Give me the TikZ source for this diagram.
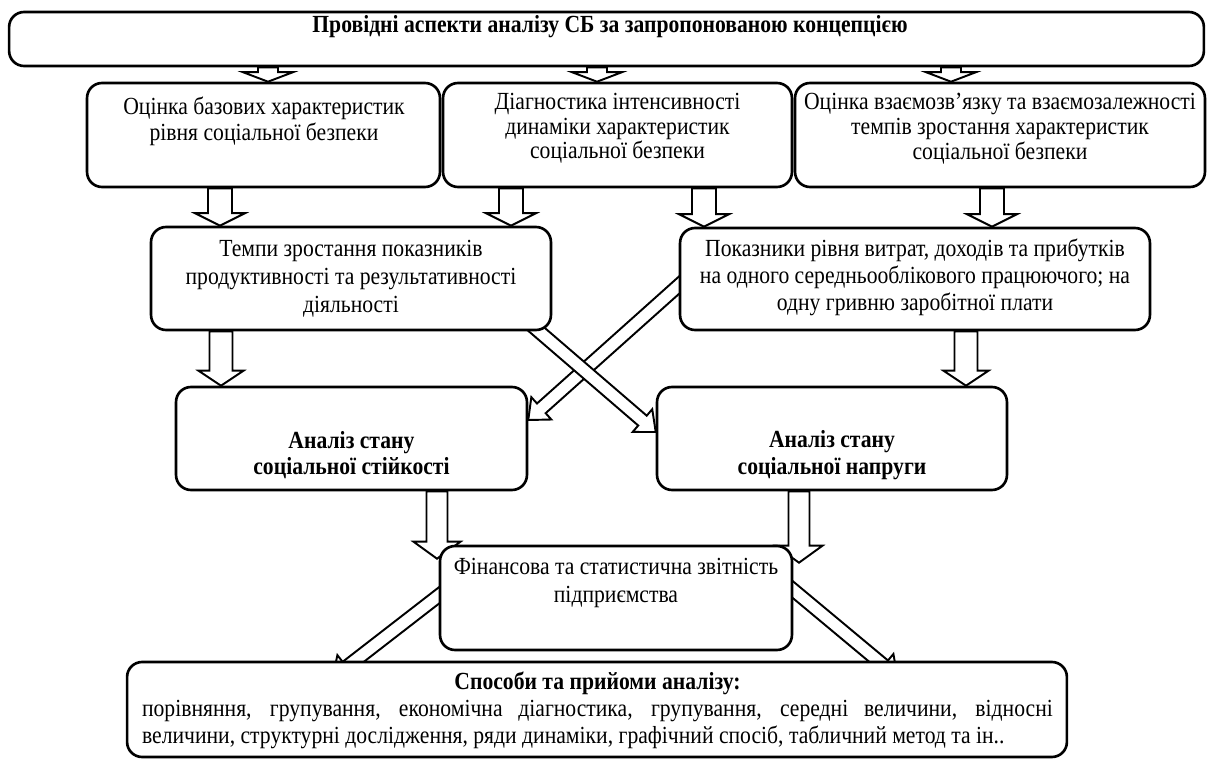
\documentclass[tikz,border=0pt]{standalone}
\usepackage{fontspec}
\setmainfont{Liberation Serif}[FakeStretch=0.88]
\usetikzlibrary{positioning,calc,backgrounds}

\tikzset{
  box/.style={draw, line width=1.5pt, rounded corners=0.3cm, fill=white, inner sep=0pt},
  boxtext/.style={align=center, inner sep=0pt, font=\fontsize{14}{15}\selectfont},
  boldtext/.style={boxtext, font=\fontsize{14}{15}\selectfont\bfseries},
  fatarrow/.style={draw, line width=1.1pt, fill=white, line join=miter},
}

% hollow block arrow: from, to, shaft half width, head half width, head length
\newcommand{\hollowarrow}[5]{%
  \coordinate (ha) at (#1);
  \coordinate (hz) at (#2);
  \coordinate (hb) at ($(hz)!#5!(ha)$);
  \draw[fatarrow] ($(ha)!#3!90:(hz)$) -- ($(hb)!#3!90:(hz)$) -- ($(hb)!#4!90:(hz)$) -- (hz)
    -- ($(hb)!#4!-90:(hz)$) -- ($(hb)!#3!-90:(hz)$) -- ($(ha)!#3!-90:(hz)$) -- cycle;
}

\begin{document}
\begin{tikzpicture}[x=0.02cm, y=-0.02cm]
\useasboundingbox (0,0) rectangle (1208,760);

% top
\node[box, minimum width=23.9cm, minimum height=1.08cm] (top) at (606.5,39) {};
\node[boldtext] (top-txt) at (610,27) {Провідні аспекти аналізу СБ за запропонованою концепцією};

% aspects
\node[box, minimum width=7.06cm, minimum height=2.08cm] (A) at (263.5,135) {};
\node[boxtext] (A-txt) at (264,121) {Оцінка базових характеристик\\рівня соціальної безпеки};
\node[box, minimum width=6.98cm, minimum height=2.08cm] (B) at (617.5,135) {};
\node[boxtext, font=\fontsize{14}{14}\selectfont] (B-txt) at (617.5,128.5) {Діагностика інтенсивності\\динаміки характеристик\\соціальної безпеки};
\node[box, minimum width=8.2cm, minimum height=2.08cm] (C) at (1000,135) {};
\node[boxtext, font=\fontsize{14}{14.2}\selectfont] (C-txt) at (1000,129) {Оцінка взаємозв’язку та взаємозалежності\\темпів зростання характеристик\\соціальної безпеки};

% indicators
\node[box, minimum width=8.0cm, minimum height=2.06cm] (T) at (351,278.5) {};
\node[boxtext, font=\fontsize{14}{16}\selectfont] (T-txt) at (351,278.5) {Темпи зростання показників\\продуктивності та результативності\\діяльності};
\node[box, minimum width=9.4cm, minimum height=2.04cm] (P) at (915,279) {};
\node[boxtext, font=\fontsize{14}{15.4}\selectfont] (P-txt) at (915,277) {Показники рівня витрат, доходів та прибутків\\на одного середньооблікового працюючого; на\\одну гривню заробітної плати};

% analysis
\node[box, minimum width=7.02cm, minimum height=2.06cm] (S) at (351.5,438.5) {};
\node[boldtext] (S-txt) at (351.5,455) {Аналіз стану\\соціальної стійкості};
\node[box, minimum width=7.0cm, minimum height=2.06cm] (N) at (832,438.5) {};
\node[boldtext] (N-txt) at (832,455) {Аналіз стану\\соціальної напруги};

% reports
\node[box, minimum width=7.04cm, minimum height=2.08cm] (F) at (616,598) {};
\node[boxtext, font=\fontsize{14}{16}\selectfont] (F-txt) at (616,583) {Фінансова та статистична звітність\\підприємства};

% methods
\node[box, minimum width=18.8cm, minimum height=1.9cm] (M) at (597,709.5) {};
\node[boxtext, text width=18.22cm, align=justify, font=\fontsize{14}{15.4}\selectfont] (M-txt) at (597.5,710) {%
  {\centering\bfseries\noindent Способи та прийоми аналізу:\par}
  \noindent порівняння, групування, економічна діагностика, групування, середні величини, відносні\linebreak
  величини, структурні дослідження, ряди динаміки, графічний спосіб, табличний метод та ін..};

% arrows behind the boxes
\begin{scope}[on background layer]
  \coordinate (xa) at (268,0);
  \coordinate (xb) at (597,0);
  \coordinate (xc) at (951,0);
  \hollowarrow{xa |- top.south}{xa |- A.north}{0.2cm}{0.5cm}{0.19cm}
  \hollowarrow{xb |- top.south}{xb |- B.north}{0.2cm}{0.5cm}{0.19cm}
  \hollowarrow{xc |- top.south}{xc |- C.north}{0.2cm}{0.5cm}{0.19cm}

  \coordinate (xat) at (220,0);
  \coordinate (xbt) at (511,0);
  \coordinate (xbp) at (704,0);
  \coordinate (xcp) at (992,0);
  \hollowarrow{xat |- A.south}{xat |- T.north}{0.24cm}{0.5cm}{0.25cm}
  \hollowarrow{xbt |- B.south}{xbt |- T.north}{0.24cm}{0.5cm}{0.25cm}
  \hollowarrow{xbp |- B.south}{xbp |- P.north}{0.24cm}{0.5cm}{0.25cm}
  \hollowarrow{xcp |- C.south}{xcp |- P.north}{0.24cm}{0.5cm}{0.25cm}

  \coordinate (xts) at (221,0);
  \coordinate (xpn) at (966,0);
  \hollowarrow{xts |- T.south}{xts |- S.north}{0.23cm}{0.45cm}{0.3cm}
  \hollowarrow{xpn |- P.south}{xpn |- N.north}{0.23cm}{0.45cm}{0.3cm}
  \hollowarrow{[xshift=0.3cm,yshift=0.14cm]P.west}{[yshift=0.37cm]S.east}{0.13cm}{0.3cm}{0.35cm}
  \hollowarrow{[xshift=-0.48cm,yshift=0.18cm]T.south east}{[yshift=0.13cm]N.west}{0.13cm}{0.3cm}{0.35cm}

  \coordinate (xsf) at (437,0);
  \coordinate (xnf) at (799,0);
  \hollowarrow{xsf |- S.south}{$(xsf |- F.north)+(0,14)$}{0.21cm}{0.47cm}{0.34cm}
  \hollowarrow{xnf |- N.south}{$(xnf |- F.north)+(0,18)$}{0.21cm}{0.47cm}{0.34cm}
  \hollowarrow{[xshift=0.3cm,yshift=0.28cm]F.west}{[xshift=4.14cm,yshift=-0.34cm]M.north west}{0.13cm}{0.3cm}{0.35cm}
  \hollowarrow{[xshift=-0.3cm,yshift=0.41cm]F.east}{[xshift=-3.42cm,yshift=-0.32cm]M.north east}{0.13cm}{0.3cm}{0.35cm}
\end{scope}
\end{tikzpicture}
\end{document}
